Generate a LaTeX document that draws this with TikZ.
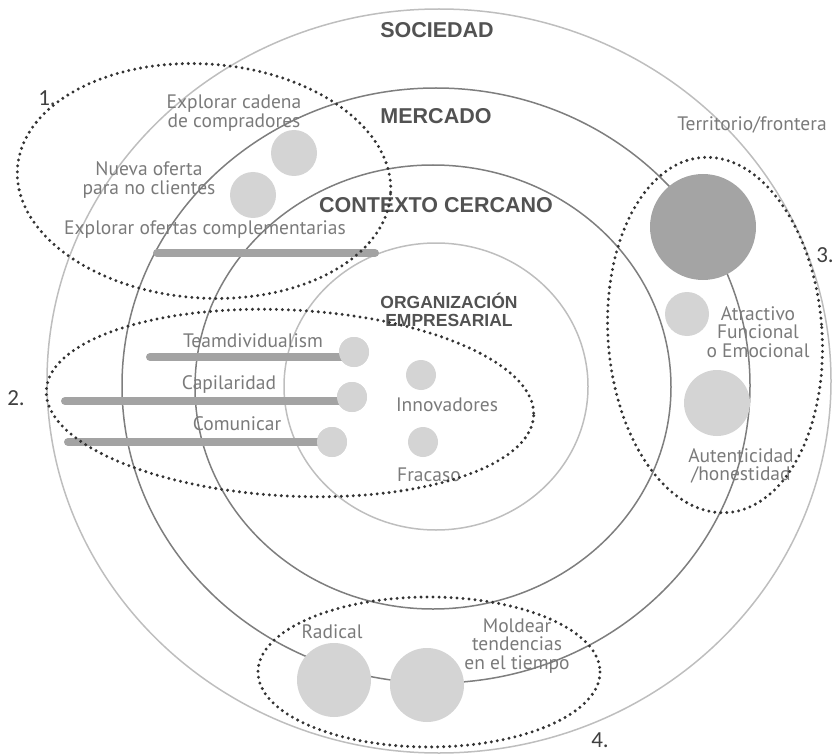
\documentclass[tikz,border=0pt]{standalone}
\usepackage{fontspec}
\setmainfont{PT Sans}
\newfontfamily\rotfont{Liberation Sans}
\newfontfamily\numfont{Carlito}
\definecolor{anclaro}{HTML}{BEBEBE}
\definecolor{anoscuro}{HTML}{7E7E7E}
\definecolor{bola}{HTML}{D4D4D4}
\definecolor{bolaosc}{HTML}{A4A4A4}
\definecolor{barra}{HTML}{A3A3A3}
\definecolor{letra}{HTML}{7A7A7A}
\definecolor{rotulo}{HTML}{525252}
\begin{document}
\begin{tikzpicture}[x=1pt,y=-1pt,
    anillo/.style={line width=1.5pt},
    puntos/.style={line width=3.3pt,line cap=round,dash pattern=on 0pt off 6pt,black!80},
    bolita/.style={circle,fill=bola,inner sep=0pt,minimum size=#1},
    barrita/.style={line width=8pt,line cap=round,barra},
    etiq/.style={text=letra,font=\fontsize{19.5}{18.5}\selectfont,align=center,inner sep=0pt},
    titulo/.style={text=rotulo,font=\rotfont\bfseries\fontsize{21.5}{16.5}\selectfont,align=center,inner sep=0pt},
    numero/.style={text=black!75,font=\numfont\fontsize{23}{23}\selectfont,inner sep=0pt}]
  \useasboundingbox (0,0) rectangle (835,754);
  % anillos
  \coordinate (soc) at (439,381);
  \coordinate (mer) at (436,385.5);
  \coordinate (con) at (433,387);
  \coordinate (org) at (436,386.5);
  \draw[anillo,anclaro] (soc) ellipse [x radius=392,y radius=372];
  \draw[anillo,anoscuro] (mer) ellipse [x radius=314,y radius=297.5];
  \draw[anillo,anoscuro] (con) ellipse [x radius=238,y radius=222];
  \draw[anillo,anclaro] (org) ellipse [x radius=152,y radius=143.5];
  \node[titulo] (tsoc) at (437,30) {SOCIEDAD};
  \node[titulo] (tmer) at (436,116) {MERCADO};
  \node[titulo] (tcon) at (436,205) {CONTEXTO CERCANO};
  \node[titulo,font=\rotfont\bfseries\fontsize{17.5}{18}\selectfont] (torg) at (449,310) {ORGANIZACIÓN\\EMPRESARIAL};
  % grupo 1
  \coordinate (b1i) at (157,253);
  \coordinate (b1f) at (375,253);
  \draw[barrita] (b1i) -- (b1f);
  \node[bolita=46] (b1a) at (294,153) {};
  \node[bolita=46] (b1b) at (253,195) {};
  \node[etiq] (t1a) at (234,113) {Explorar cadena\\de compradores};
  \node[etiq] (t1b) at (149,180) {Nueva oferta\\para no clientes};
  \node[etiq] (t1c) at (205,230) {Explorar ofertas complementarias};
  % grupo 2
  \coordinate (b2a) at (150,357);
  \coordinate (b2b) at (65,401);
  \coordinate (b2c) at (68,442);
  \node[bolita=30] (bt) at (354,352) {};
  \node[bolita=30] (bc) at (352,397) {};
  \node[bolita=30] (bm) at (332,442) {};
  \draw[barrita] (b2a) -- (b2a -| bt);
  \draw[barrita] (b2b) -- (b2b -| bc);
  \draw[barrita] (b2c) -- (b2c -| bm);
  \node[bolita=30] at (bt) {};
  \node[bolita=30] at (bc) {};
  \node[bolita=30] at (bm) {};
  \node[bolita=30] (bi) at (421,375) {};
  \node[bolita=30] (bf) at (423,442) {};
  \node[etiq] (t2a) at (253,341) {Teamdividualism};
  \node[etiq] (t2b) at (229,385) {Capilaridad};
  \node[etiq] (t2c) at (237,424) {Comunicar};
  \node[etiq] (t2d) at (447,405) {Innovadores};
  \node[etiq] (t2e) at (429,475) {Fracaso};
  % grupo 3
  \node[bolita=106,fill=bolaosc] (b3a) at (703,227) {};
  \node[bolita=44] (b3b) at (687,314) {};
  \node[bolita=66] (b3c) at (717,403) {};
  \node[etiq] (t3a) at (752,125) {Territorio/frontera};
  \node[etiq] (t3b) at (758,332) {Atractivo\\Funcional\\o Emocional};
  \node[etiq] (t3c) at (741,466) {Autenticidad\\/honestidad};
  % grupo 4
  \node[bolita=74] (b4a) at (334,680) {};
  \node[bolita=74] (b4b) at (427,685) {};
  \node[etiq] (t4a) at (332,632) {Radical};
  \node[etiq] (t4b) at (517,646) {Moldear\\tendencias\\en el tiempo};
  % elipses punteadas
  \draw[puntos] (204,181) ellipse [x radius=187,y radius=117,rotate=-4];
  \draw[puntos] (290,403) ellipse [x radius=244,y radius=93,rotate=-3];
  \draw[puntos] (715,335) ellipse [x radius=107,y radius=178,rotate=4];
  \draw[puntos] (429,672) ellipse [x radius=171,y radius=75];
  \node[numero] (n1) at (47,98) {1.};
  \node[numero] (n2) at (16,398) {2.};
  \node[numero] (n3) at (825,255) {3.};
  \node[numero] (n4) at (600,740) {4.};
\end{tikzpicture}
\end{document}
